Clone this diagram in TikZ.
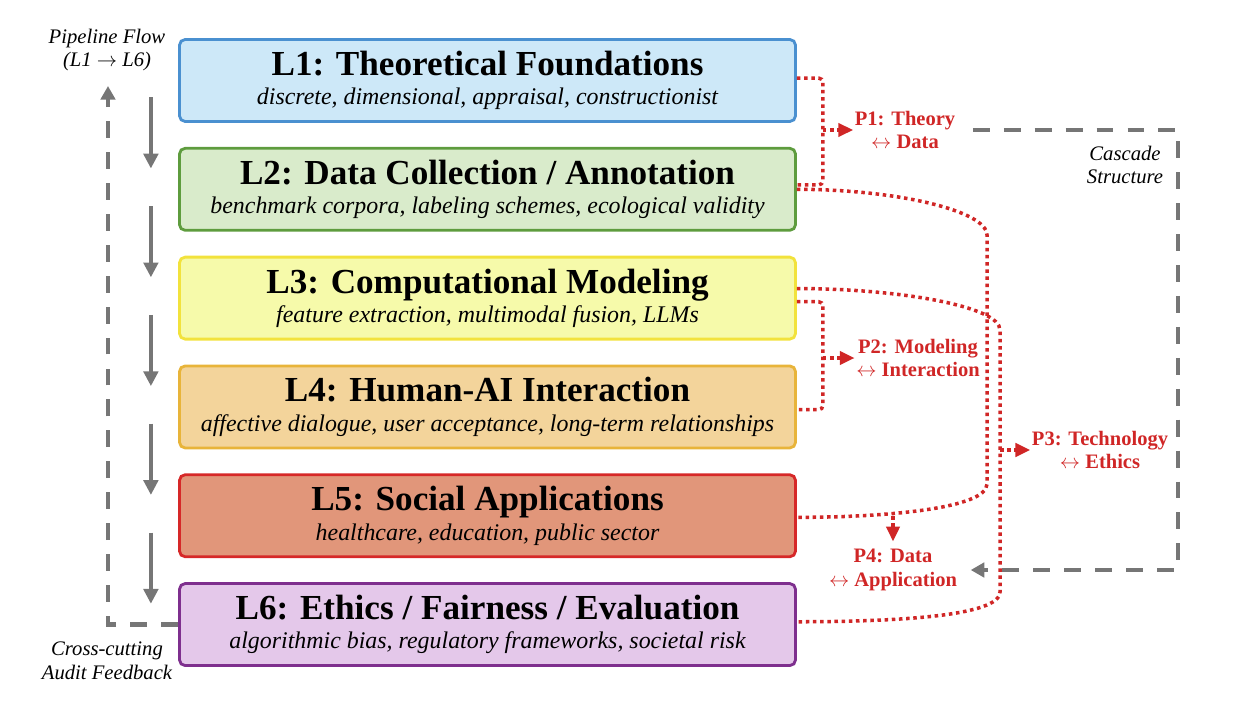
\documentclass[tikz,border=0pt]{standalone}
\usepackage{fontspec}
\setmainfont{Liberation Serif}
\usetikzlibrary{positioning,calc,arrows.meta}

% 颜色
\definecolor{l1fill}{HTML}{CDE8F8}
\definecolor{l1line}{HTML}{4A90D0}
\definecolor{l2fill}{HTML}{D9EBCB}
\definecolor{l2line}{HTML}{5E9C3E}
\definecolor{l3fill}{HTML}{F6FAAA}
\definecolor{l3line}{HTML}{F2E23C}
\definecolor{l4fill}{HTML}{F3D49B}
\definecolor{l4line}{HTML}{E8B43A}
\definecolor{l5fill}{HTML}{E1967A}
\definecolor{l5line}{HTML}{D62828}
\definecolor{l6fill}{HTML}{E4C8EA}
\definecolor{l6line}{HTML}{7E2F8E}
\definecolor{linkred}{HTML}{D02626}
\definecolor{flowgray}{HTML}{767676}

\newcommand{\layertitle}[2]{{\fontsize{25}{21}\selectfont\bfseries #1}\\{\fontsize{17}{21}\selectfont\itshape #2}}

\tikzset{
  layer/.style 2 args={draw=#1, fill=#2, line width=2pt, rounded corners=4pt,
    minimum width=15.4cm, minimum height=2.05cm, align=center, inner sep=0pt,
    font=\fontsize{17}{21}\selectfont},
  flow/.style={draw=flowgray, line width=3pt, -{Triangle[length=0.37cm,width=0.36cm]}},
  feedback/.style={draw=flowgray, line width=3pt, dash pattern=on 12pt off 10pt,
    -{Triangle[length=0.34cm,width=0.36cm]}},
  cascade/.style={feedback},
  link/.style={draw=linkred, line width=2.5pt, dash pattern=on 2.5pt off 2.6pt},
  pointer/.style={link, -{Triangle[length=0.37cm,width=0.33cm]}},
  plabel/.style={text=linkred, font=\fontsize{14.6}{17}\selectfont\bfseries,
    align=center, inner sep=1pt},
  note/.style={font=\fontsize{14.7}{17}\selectfont\itshape, align=center, inner sep=1pt}
}

\begin{document}
\begin{tikzpicture}[x=1cm,y=1cm]
    % 画布范围
    \useasboundingbox (0,0) rectangle (30.95,-17.875);

    % 六个层次
    \node[layer={l1line}{l1fill}] (L1) at (12.1875,-2.0125)
      {\layertitle{L1: Theoretical Foundations}{discrete, dimensional, appraisal, constructionist}};
    \node[layer={l2line}{l2fill}, below=0.6cm of L1] (L2)
      {\layertitle{L2: Data Collection / Annotation}{benchmark corpora, labeling schemes, ecological validity}};
    \node[layer={l3line}{l3fill}, below=0.6cm of L2] (L3)
      {\layertitle{L3: Computational Modeling}{feature extraction, multimodal fusion, LLMs}};
    \node[layer={l4line}{l4fill}, below=0.6cm of L3] (L4)
      {\layertitle{L4: Human-AI Interaction}{affective dialogue, user acceptance, long-term relationships}};
    \node[layer={l5line}{l5fill}, below=0.6cm of L4] (L5)
      {\layertitle{L5: Social Applications}{healthcare, education, public sector}};
    \node[layer={l6line}{l6fill}, below=0.6cm of L5] (L6)
      {\layertitle{L6: Ethics / Fairness / Evaluation}{algorithmic bias, regulatory frameworks, societal risk}};

    % 主流程箭头
    \foreach \a/\b in {L1/L2, L2/L3, L3/L4, L4/L5, L5/L6} {
      \draw[flow] ($(\a.west)+(-0.68,-0.42)$) -- ($(\b.west)+(-0.68,0.52)$);
    }

    % 审计反馈
    \coordinate (fbtop) at (2.7,-2.15);
    \draw[feedback] (L6.west) -| (fbtop);
    \node[note] (flowlabel) at (2.675,-1.25) {Pipeline Flow\\(L1 $\rightarrow$ L6)};
    \node[note] (auditlabel) at (2.675,-16.525) {Cross-cutting\\Audit Feedback};

    % 路径标签
    \node[plabel] (P1) at (22.625,-3.25) {P1: Theory\\$\leftrightarrow$ Data};
    \node[plabel] (P2) at (22.95,-8.95) {P2: Modeling\\$\leftrightarrow$ Interaction};
    \node[plabel] (P3) at (27.5,-11.25) {P3: Technology\\$\leftrightarrow$ Ethics};
    \node[plabel] (P4) at (22.325,-14.25) {P4: Data\\$\leftrightarrow$ Application};

    % 级联结构
    \coordinate (cascR) at (29.45,0);
    \node[note] (casclabel) at (28.125,-4.125) {Cascade\\Structure};
    \draw[cascade, shorten <=0.4cm, shorten >=0.3cm] (P1.east) -| (cascR |- P4.east) -- (P4.east);

    % P1: L1 -- L2
    \draw[link, rounded corners=3pt] ($(L1.east)+(0,0.06)$) -- ++(0.65,0) coordinate (b1)
      |- ($(L2.east)+(0,0.11)$);
    \draw[pointer] (b1 |- P1.west) -- (P1.west);

    % P2: L3 -- L4
    \draw[link, rounded corners=3pt] ($(L3.east)+(0,-0.09)$) -- ++(0.65,0) coordinate (b2)
      |- ($(L4.east)+(0,-0.07)$);
    \draw[pointer] (b2 |- P2.west) -- (P2.west);

    % P3: L3 -- L6
    \coordinate (p3top) at (25.0,-8.25);
    \coordinate (p3bot) at (25.0,-14.8);
    \draw[link] ($(L3.east)+(0,0.24)$) .. controls +(2.5,0) and +(0,0.6) .. (p3top)
      -- (p3bot) .. controls +(0,-0.6) and +(2.5,0) .. ($(L6.east)+(0,0.07)$);
    \draw[pointer] (p3top |- P3.west) -- (P3.west);

    % P4: L2 -- L5
    \coordinate (p4top) at (24.675,-5.875);
    \coordinate (p4bot) at (24.675,-12.1);
    \draw[link] (L2.east) .. controls +(2.5,0) and +(0,0.6) .. (p4top)
      -- (p4bot) .. controls +(0,-0.6) and +(2.3,0) .. ($(L5.east)+(0,-0.04)$);
    \coordinate (p4m) at (22.325,-12.9);
    \draw[pointer, shorten >=0.15cm] (p4m) -- (P4.north);

\end{tikzpicture}
\end{document}
